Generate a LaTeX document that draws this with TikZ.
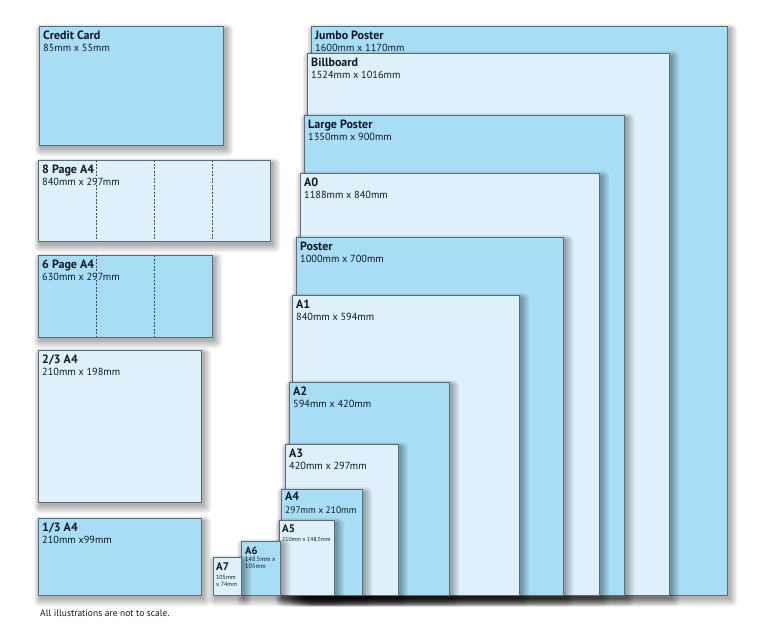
\documentclass[tikz,border=0pt]{standalone}
\usepackage{fontspec}
\setmainfont{PT Sans}
\definecolor{pblue}{RGB}{168,222,245}
\definecolor{plight}{RGB}{222,241,250}
\definecolor{pedge}{RGB}{88,108,120}
\definecolor{ptext}{RGB}{16,22,38}
\tikzset{
  paper/.style={draw=pedge, line width=0.9pt, anchor=north west, inner sep=0pt, outer sep=0pt},
  shade layer/.style={fill=black, opacity=0.05},
  bluepaper/.style={fill=pblue},
  lightpaper/.style={fill=plight},
  ttl/.style={anchor=base west, inner sep=0pt, text=ptext, font=\fontsize{12}{13}\selectfont\bfseries},
  dimt/.style={anchor=base west, inner sep=0pt, text=ptext, font=\fontsize{10.3}{11}\selectfont},
  tinyt/.style={anchor=base west, inner sep=0pt, text=ptext, font=\fontsize{6}{7}\selectfont},
  fold/.style={draw=pedge!70!black, dash pattern=on 2pt off 1.5pt, line width=0.7pt},
  note/.style={anchor=base west, inner sep=0pt, text=ptext, font=\fontsize{9.5}{10}\selectfont}
}
\newcommand\paperbox[6]{%
  \foreach \k in {0,...,6}{%
    \fill[shade layer,rounded corners=\k pt] (#2+2-\k*1.0,#3+3-\k*0.8) rectangle (#4+2.5+\k*1.3,#5+3.5+\k*1.3);}
  \node[paper,#6,minimum width=#4pt-#2pt,minimum height=#5pt-#3pt] (#1) at (#2,#3) {};}
\newcommand\sheet[8]{%
  \paperbox{#1}{#2}{#3}{#4}{#5}{#6}
  \node[ttl] (#1-t) at ([xshift=4pt,yshift=-13pt]#1.north west) {#7};
  \node[dimt] (#1-d) at ([yshift=-12pt]#1-t.base west) {#8};}
\begin{document}
\begin{tikzpicture}[x=1pt,y=-1pt]
\useasboundingbox (0,0) rectangle (770,629);
% left column
\sheet{cc}{39}{26}{223}{145}{bluepaper}{Credit Card}{85mm x 55mm}
\sheet{p8}{38}{160}{270}{241}{lightpaper}{8 Page A4}{840mm x 297mm}
\draw[fold] (96,160) -- (96,241) (154,160) -- (154,241) (212,160) -- (212,241);
\sheet{p6}{38}{255}{212}{337}{bluepaper}{6 Page A4}{630mm x 297mm}
\draw[fold] (96,255) -- (96,337) (154,255) -- (154,337);
\sheet{tt}{38}{350}{201}{502}{lightpaper}{2/3 A4}{210mm x 198mm}
\sheet{ot}{38}{518}{201}{595}{bluepaper}{1/3 A4}{210mm x99mm}
% right stack
\sheet{jp}{311}{26}{727}{595}{bluepaper}{Jumbo Poster}{1600mm x 1170mm}
\sheet{bb}{307}{53}{669}{595}{lightpaper}{Billboard}{1524mm x 1016mm}
\sheet{lp}{304}{115}{624}{595}{bluepaper}{Large Poster}{1350mm x 900mm}
\sheet{a0}{300}{173}{599}{595}{lightpaper}{A0}{1188mm x 840mm}
\sheet{po}{296}{237}{563}{595}{bluepaper}{Poster}{1000mm x 700mm}
\sheet{a1}{292}{295}{519}{595}{lightpaper}{A1}{840mm x 594mm}
\sheet{a2}{289}{382}{449}{595}{bluepaper}{A2}{594mm x 420mm}
\sheet{a3}{285}{444}{398}{595}{lightpaper}{A3}{420mm x 297mm}
% A4
\paperbox{a4}{281}{489}{362}{595}{bluepaper}
\node[ttl] (a4-t) at ([xshift=4pt,yshift=-11pt]a4.north west) {A4};
\node[dimt,font=\fontsize{9.5}{10}\selectfont] (a4-d) at ([yshift=-13pt]a4-t.base west) {297mm x 210mm};
% A5
\paperbox{a5}{279}{520}{334}{595}{lightpaper}
\node[ttl,font=\fontsize{11}{12}\selectfont\bfseries] (a5-t) at ([xshift=3pt,yshift=-12.7pt]a5.north west) {A5};
\node[tinyt,font=\fontsize{5.8}{6}\selectfont] (a5-d) at ([yshift=-9pt]a5-t.base west) {210mm x 148.5mm};
% A6
\paperbox{a6}{241}{541}{280}{595}{bluepaper}
\node[ttl,font=\fontsize{10.5}{12}\selectfont\bfseries] (a6-t) at ([xshift=4pt,yshift=-13pt]a6.north west) {A6};
\node[tinyt,font=\fontsize{6.3}{7}\selectfont] (a6-d1) at ([yshift=-7pt]a6-t.base west) {148.5mm x};
\node[tinyt,font=\fontsize{6.3}{7}\selectfont] (a6-d2) at ([yshift=-7.7pt]a6-d1.base west) {105mm};
% A7
\paperbox{a7}{213}{557}{241}{595}{lightpaper}
\node[ttl,font=\fontsize{11}{12}\selectfont\bfseries] (a7-t) at ([xshift=3pt,yshift=-13pt]a7.north west) {A7};
\node[tinyt] (a7-d1) at ([yshift=-9pt]a7-t.base west) {105mm};
\node[tinyt] (a7-d2) at ([yshift=-7.7pt]a7-d1.base west) {x 74mm};
% note
\node[note] (nt) at (40,616) {All illustrations are not to scale.};
\end{tikzpicture}
\end{document}
